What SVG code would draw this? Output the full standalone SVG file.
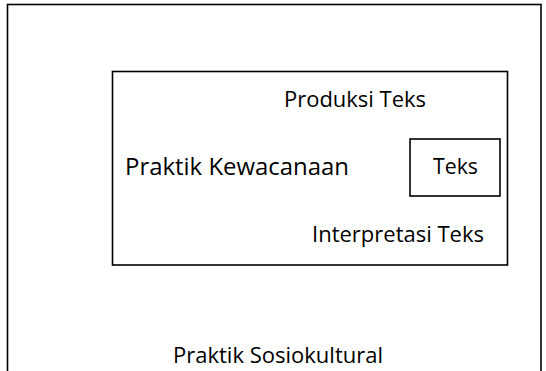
<svg xmlns="http://www.w3.org/2000/svg" width="546" height="371" viewBox="0 0 546 371">
  <style>
    .box { fill: #ffffff; stroke: #000000; stroke-width: 1.6; }
    .lbl { font-family: "Open Sans", "Noto Sans", "Liberation Sans", sans-serif; fill: #000000; }
  </style>
  <rect x="0" y="0" width="546" height="371" fill="#ffffff"/>
  <g id="praktik-sosiokultural">
    <rect class="box" x="7.5" y="4.5" width="533.5" height="380"/>
    <text class="lbl" x="173" y="363" font-size="21" textLength="210" lengthAdjust="spacingAndGlyphs">Praktik Sosiokultural</text>
  </g>
  <g id="praktik-kewacanaan">
    <rect class="box" x="112.5" y="71.5" width="395" height="193.5"/>
    <text class="lbl" x="125" y="175" font-size="24" textLength="224" lengthAdjust="spacingAndGlyphs">Praktik Kewacanaan</text>
    <text class="lbl" x="284" y="107" font-size="21" textLength="142" lengthAdjust="spacingAndGlyphs">Produksi Teks</text>
    <text class="lbl" x="312" y="242" font-size="21" textLength="172" lengthAdjust="spacingAndGlyphs">Interpretasi Teks</text>
  </g>
  <g id="teks">
    <rect class="box" x="410" y="139" width="90" height="57"/>
    <text class="lbl" x="433" y="174" font-size="21" textLength="45" lengthAdjust="spacingAndGlyphs">Teks</text>
  </g>
  <g id="connectors"/>
</svg>
